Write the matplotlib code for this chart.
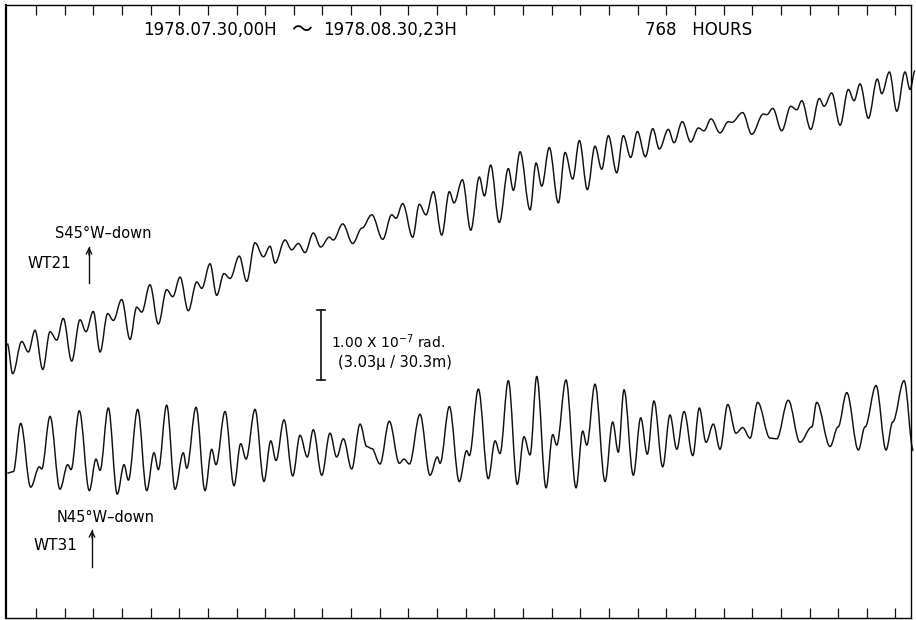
import numpy as np
import matplotlib
matplotlib.use("Agg")
import matplotlib.pyplot as plt
from matplotlib.path import Path
from matplotlib.patches import PathPatch

# Tilt records WT21 / WT31, read off the chart as turning points of the trace
# time in hours from 1978.07.30 00h, tilt in units of 1e-8 rad (arbitrary offset)

wt21_hours = [0, 4.5, 12.1, 17.6, 23.2, 29.7, 35.8, 41.4, 46.9, 53.9,
              60.9, 65.9, 72.0, 77.7, 84.1, 88.8, 95.8, 102.8, 108.4, 112.6,
              119.5, 126.5, 133.5, 138.6, 144.7, 151.6, 158.7, 162.9, 169.8, 175.4,
              181.5, 186.6, 194.3, 200.5, 207.5, 214.5, 220.1, 224.3, 232.6, 238.2,
              243.8, 249.4, 256.3, 262.5, 269.7, 273.1, 281.0, 289.3, 297.1, 305.3,
              314.5, 322.0, 325.6, 331.2, 339.6, 345.1, 350.7, 356.9, 363.9, 370.3,
              374.2, 381.2, 388.2, 395.4, 399.6, 404.9, 412.1, 419.7, 423.9, 429.5,
              437.9, 442.9, 447.7, 454.0, 461.6, 467.2, 473.6, 479.2, 485.9, 492.3,
              497.9, 503.5, 510.5, 516.0, 522.2, 527.8, 534.5, 540.7, 546.2, 553.7,
              558.5, 565.4, 572.5, 578.9, 583.6, 589.5, 597.0, 604.0, 606.8, 616.0,
              623.6, 633.3, 636.2, 641.2, 648.7, 656.3, 661.3, 665.5, 673.0, 680.2,
              684.2, 690.6, 697.6, 704.5, 709.3, 714.3, 721.3, 728.8, 732.5, 738.9,
              745.1, 752.0, 756.2, 760.4]
wt21_tilt = [39.2, 34.9, 39.5, 38.0, 41.1, 35.5, 40.9, 39.7, 42.8, 36.7,
             42.6, 40.9, 43.8, 38.0, 43.5, 42.5, 45.5, 39.8, 44.4, 43.7,
             47.6, 42.0, 46.9, 45.9, 48.7, 43.9, 48.0, 47.1, 50.6, 46.1,
             49.2, 48.5, 51.7, 48.1, 53.6, 51.6, 53.1, 50.7, 54.0, 52.6,
             53.5, 52.2, 55.0, 53.0, 54.4, 54.0, 56.3, 53.5, 55.7, 57.6,
             54.1, 57.6, 57.1, 59.2, 54.4, 59.1, 57.6, 60.9, 54.7, 60.9,
             59.3, 62.6, 55.4, 63.0, 60.3, 64.7, 56.5, 64.2, 61.1, 66.6,
             58.3, 65.0, 61.7, 67.2, 59.3, 66.5, 62.7, 68.2, 61.2, 67.4,
             64.1, 68.9, 63.6, 68.9, 65.8, 69.5, 65.9, 69.9, 67.0, 69.8,
             67.9, 70.9, 68.0, 70.0, 69.6, 71.3, 69.3, 70.9, 70.8, 72.2,
             69.1, 72.0, 71.9, 72.8, 69.6, 73.1, 72.6, 73.9, 69.8, 74.2,
             73.1, 75.0, 70.4, 75.5, 73.9, 76.3, 71.4, 77.0, 74.9, 78.0,
             72.4, 78.0, 75.5, 78.2]

wt31_hours = [0, 5.0, 11.2, 19.6, 26.8, 28.8, 35.8, 44.1, 50.6, 53.4,
              60.3, 68.7, 74.3, 77.7, 84.6, 92.1, 97.8, 101.4, 109.2, 116.8,
              122.9, 126.5, 133.5, 140.5, 147.4, 150.3, 158.1, 165.6, 171.2, 174.8,
              182.4, 189.9, 195.5, 200.0, 207.5, 215.0, 220.7, 225.1, 231.8, 239.1,
              245.2, 251.3, 256.3, 263.4, 270.3, 275.9, 281.5, 288.5, 295.5, 301.1,
              305.3, 312.2, 320.0, 328.4, 332.3, 336.8, 345.7, 354.1, 360.2, 362.5,
              370.3, 378.6, 384.8, 387.0, 394.6, 402.9, 408.6, 412.7, 419.7, 427.2,
              432.8, 437.9, 443.5, 451.3, 456.9, 460.2, 468.0, 476.4, 482.0, 485.4,
              492.3, 500.7, 507.1, 511.8, 516.6, 524.4, 530.6, 536.1, 541.7, 549.0,
              555.1, 560.8, 566.9, 574.2, 579.7, 585.3, 591.4, 597.0, 603.5, 610.4,
              616.0, 622.2, 628.6, 638.9, 644.5, 654.2, 664.0, 673.9, 678.0, 689.2,
              695.9, 703.2, 712.9, 718.5, 727.7, 736.1, 741.7, 751.2, 759.0]
wt31_tilt = [20.7, 20.9, 27.8, 18.7, 21.6, 21.3, 28.8, 18.4, 21.9, 21.2,
             29.6, 18.2, 22.7, 21.1, 30.0, 17.7, 21.9, 19.7, 29.8, 18.2,
             23.6, 21.2, 30.4, 18.4, 23.6, 21.4, 30.1, 18.2, 24.1, 21.9,
             29.5, 18.9, 24.9, 22.7, 29.8, 19.5, 25.3, 22.5, 28.3, 20.3,
             26.1, 23.0, 26.9, 20.4, 26.4, 23.0, 25.6, 21.3, 27.7, 24.5,
             24.2, 22.0, 28.1, 22.1, 22.7, 22.0, 29.1, 20.4, 23.0, 22.1,
             30.2, 19.5, 23.9, 23.2, 32.7, 19.9, 25.3, 23.5, 33.9, 19.1,
             25.9, 23.3, 34.5, 18.6, 26.2, 24.7, 34.0, 18.6, 26.7, 24.7,
             33.4, 19.5, 28.0, 23.7, 32.6, 20.4, 28.6, 23.4, 31.0, 21.6,
             29.0, 24.1, 29.5, 23.2, 30.0, 25.1, 27.7, 24.1, 30.5, 26.4,
             27.2, 25.7, 30.8, 25.7, 25.6, 31.1, 25.1, 27.3, 30.8, 24.5,
             27.3, 32.2, 24.0, 27.3, 33.2, 24.0, 28.0, 33.9, 23.9]

day_ticks = list(range(24, 745, 24))
scale_hour = 262.5
scale_low, scale_high = 34.0, 44.0   # 1.00e-7 rad

W, H = 916, 620


def smooth_trace(xs, ys, k=0.36):
    # pen trace: cubic segments with flat tangents at each turning point
    verts = [(xs[0], ys[0])]
    codes = [Path.MOVETO]
    for i in range(1, len(xs)):
        dx = xs[i] - xs[i - 1]
        verts += [(xs[i - 1] + k * dx, ys[i - 1]), (xs[i] - k * dx, ys[i]), (xs[i], ys[i])]
        codes += [Path.CURVE4] * 3
    return Path(verts, codes)


def px(x, y):
    return x / W, 1 - y / H


fig = plt.figure(figsize=(W / 100, H / 100), dpi=100)
ax = fig.add_axes([6 / W, 2 / H, 905 / W, 613 / H])
ax.set_xlim(-1.1, 757.0)
ax.set_ylim(0, 87.57)

for xs, ys in [(wt21_hours, wt21_tilt), (wt31_hours, wt31_tilt)]:
    ax.add_patch(PathPatch(smooth_trace(xs, ys), fill=False, ec="#111111", lw=1.05, clip_on=False))

ax.set_xticks(day_ticks)
ax.set_yticks([])
ax.tick_params(axis="x", direction="in", length=7.5, width=0.9, top=True, bottom=True,
               labelbottom=False, color="#111111")
for side in ["top", "right", "bottom"]:
    ax.spines[side].set_linewidth(1.0)
ax.spines["left"].set_linewidth(1.6)

# scale bar
ax.plot([scale_hour, scale_hour], [scale_low, scale_high], color="#111111", lw=1.2)
for v in (scale_low, scale_high):
    ax.plot([scale_hour - 3.4, scale_hour + 3.4], [v, v], color="#111111", lw=1.2)

fam = ["DejaVu Sans", "Noto Sans CJK JP"]
fig.text(*px(143, 30), "1978.07.30,00H", va="center", ha="left", fontsize=12, family=fam)
fig.text(*px(302, 30), "\u301c", va="center", ha="center", fontsize=15, family=fam)
fig.text(*px(323, 30), "1978.08.30,23H", va="center", ha="left", fontsize=12, family=fam)
fig.text(*px(645, 30), "768   HOURS", va="center", ha="left", fontsize=12, family=fam)

fig.text(*px(331, 342), "1.00 X 10$^{-7}$ rad.", va="center", ha="left", fontsize=10)
fig.text(*px(338, 363), "(3.03\u03bc / 30.3m)", va="center", ha="left", fontsize=10.5)

fig.text(*px(55, 234), "S45°W\u2013down", va="center", ha="left", fontsize=10.5)
fig.text(*px(28, 264), "WT21", va="center", ha="left", fontsize=11)
fig.text(*px(57, 517), "N45°W\u2013down", va="center", ha="left", fontsize=10.5)
fig.text(*px(33, 546), "WT31", va="center", ha="left", fontsize=11)

for x, y0, y1 in [(89, 283, 247), (92, 567, 530)]:
    fig.add_artist(plt.Line2D([x / W, x / W], [1 - y0 / H, 1 - y1 / H], color="#111111", lw=1.0))
    ax.annotate("", xy=(x, H - y1), xytext=(x, H - y1 - 8), xycoords="figure pixels",
                textcoords="figure pixels",
                arrowprops=dict(arrowstyle="->", lw=1.0, color="#111111", shrinkA=0, shrinkB=0))

fig.savefig("out.png", dpi=100)
